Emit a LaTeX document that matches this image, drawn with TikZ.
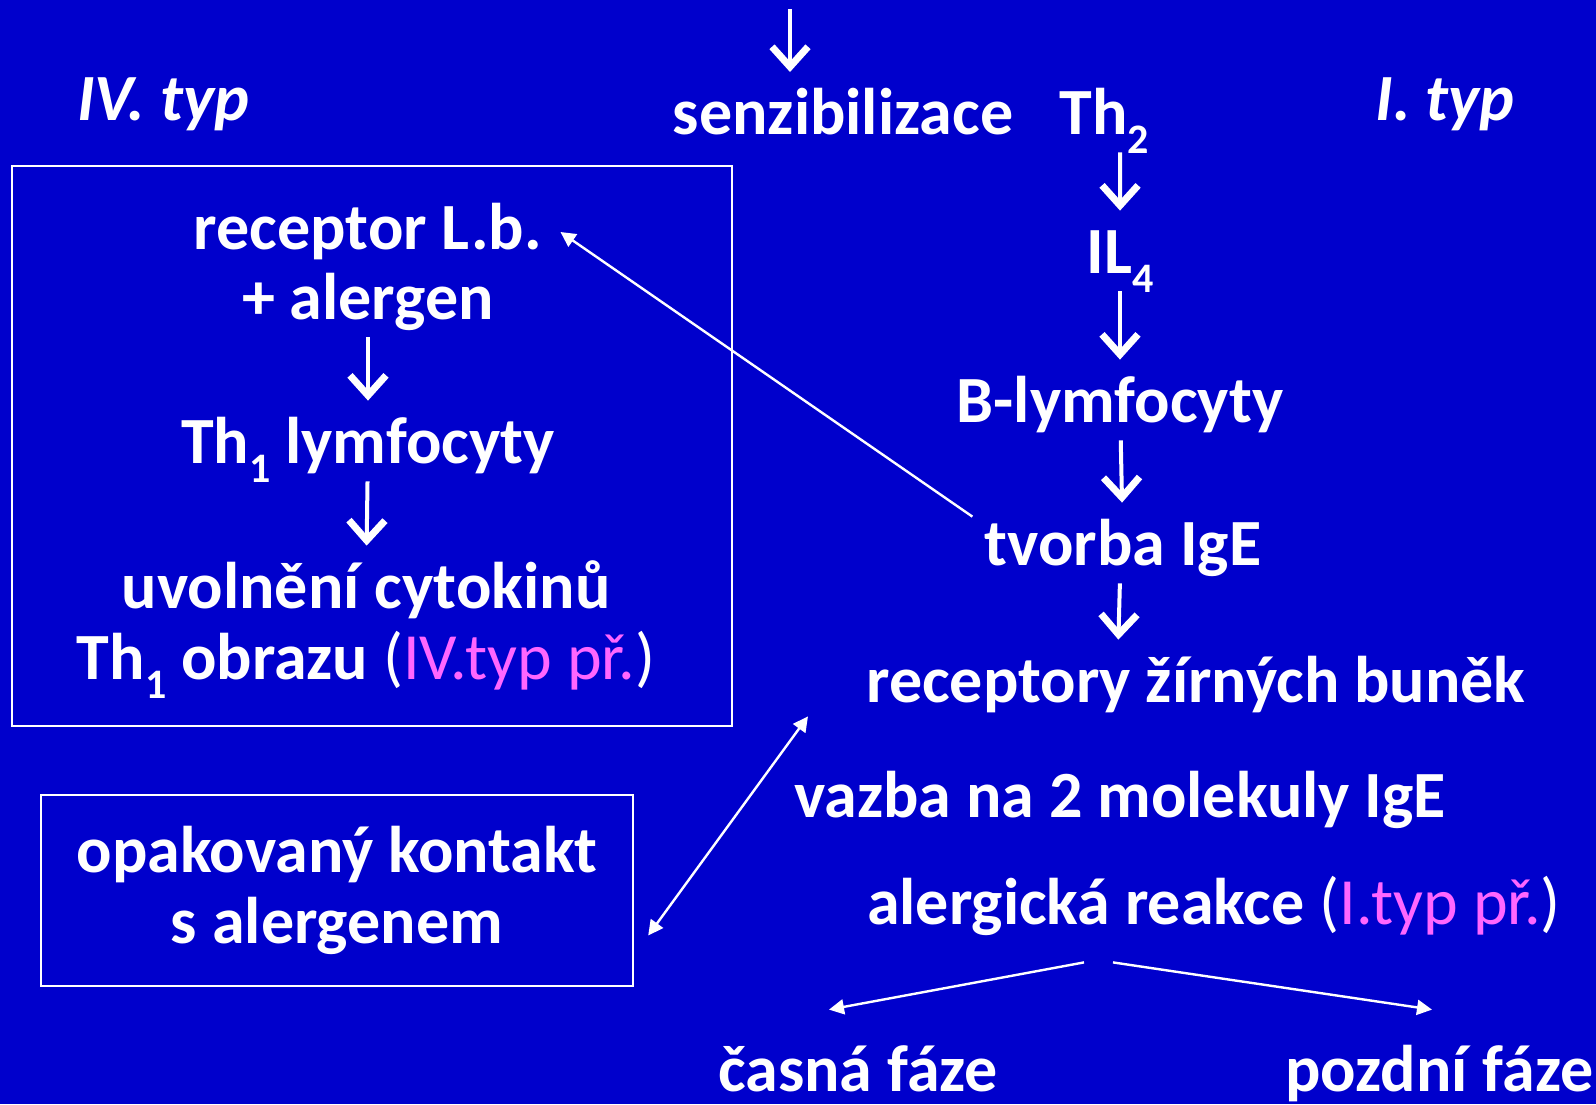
\documentclass[tikz,border=0pt]{standalone}
\usepackage{fontspec}
\setmainfont{Carlito}
\usetikzlibrary{arrows.meta}

\definecolor{slideblue}{HTML}{0000CC}
\definecolor{typpink}{HTML}{FF66FF}
\newcommand\lowidx[1]{\raisebox{-0.3em}{\fontsize{21}{21}\selectfont #1}}

\begin{document}
\begin{tikzpicture}[x=0.5pt,y=-0.5pt,
		font=\fontsize{33}{35.5}\selectfont\bfseries,
		txt/.style={text=white,inner sep=0pt,text height=24pt,text depth=7pt,anchor=base},
		box/.style={draw=white,line width=1.2pt,inner sep=0pt},
		flow/.style={white,line width=2pt,-{Straight Barb[length=10pt,width=18pt,line width=3.5pt]}},
		stepgap/.style={shorten <=2pt,shorten >=7pt},
		link/.style={white,line width=1.2pt,-{Triangle[length=7.5pt,width=7.5pt]}},
		link2/.style={white,line width=1.2pt,{Triangle[length=7.5pt,width=7.5pt]}-{Triangle[length=7.5pt,width=7.5pt]}}]
			% background
			\fill[slideblue] (0,0) rectangle (1596,1104);
			\useasboundingbox (0,0) rectangle (1596,1104);
			
			% top
			\coordinate (topin) at (790,9);
			\coordinate (topout) at (790,72);
			\draw[flow] (topin) -- (topout);
			\node[txt] (ivtyp) at (163,120) {\itshape IV. typ};
			\node[txt] (ityp) at (1445,120) {\itshape I. typ};
			\node[txt] (senz) at (843,134) {senzibilizace};
			\node[txt,anchor=base west] (th2) at (1059,134) {Th\lowidx{2}};
			
			% IV. typ
			\node[box,minimum width=360pt,minimum height=280pt] (leftbox) at (372,446) {};
			\node[txt] (reclb) at (368,249) {receptor L.b.};
			\node[txt] (alergen) at (368,319) {+ alergen};
			\node[txt] (th1) at (368,463) {Th\lowidx{1} lymfocyty};
			\node[txt] (uvol) at (366,608) {uvolnění cytokinů};
			\node[txt] (obraz) at (366,679) {Th\lowidx{1} obrazu \mdseries(\textcolor{typpink}{IV.typ př.})};
			\draw[flow,stepgap] (alergen) -- (th1);
			\draw[flow,stepgap] (th1) -- (uvol);
			
			% I. typ
			\node[txt] (il4) at (1120,273) {IL\lowidx{4}};
			\node[txt] (blym) at (1120,422) {B-lymfocyty};
			\node[txt] (tvorba) at (1123,565) {tvorba IgE};
			\node[txt] (rec) at (1196,702) {receptory žírných buněk};
			\node[txt] (vazba) at (1120,817) {vazba na 2 molekuly IgE};
			\node[txt] (alerg) at (1214,924) {alergická reakce \mdseries(\textcolor{typpink}{I.typ př.})};
			\node[txt] (casna) at (858,1091) {časná fáze};
			\node[txt,anchor=base west] (pozdni) at (1285,1091) {pozdní fáze};
			\draw[flow,stepgap] ([xshift=8pt]th2.south) -- (il4);
			\draw[flow,stepgap] (il4) -- (blym);
			\draw[flow,stepgap] (blym) -- (tvorba);
			\draw[flow,stepgap] ([xshift=-1.5pt]tvorba.south) -- ([xshift=-39pt]rec.north);
			\draw[link] ([shift={(-65pt,-12pt)}]alerg.south) -- ([shift={(-14.5pt,16.5pt)}]casna.north);
			\draw[link] ([shift={(-50.5pt,-12pt)}]alerg.south) -- ([shift={(73.5pt,16.5pt)}]pozdni.north west);
			
			% opakovany kontakt
			\node[box,txt,anchor=center,text height=,text depth=,align=center,minimum width=296pt,minimum height=95.5pt] (opak) at (337,890.5) {opakovaný kontakt\\s alergenem};
			\draw[link] ([xshift=-6pt]tvorba.north west) -- ([xshift=9pt]reclb.east);
			\draw[link2] ([shift={(7pt,-22.5pt)}]opak.east) -- ([xshift=-29pt]rec.south west);
			
\end{tikzpicture}
\end{document}
